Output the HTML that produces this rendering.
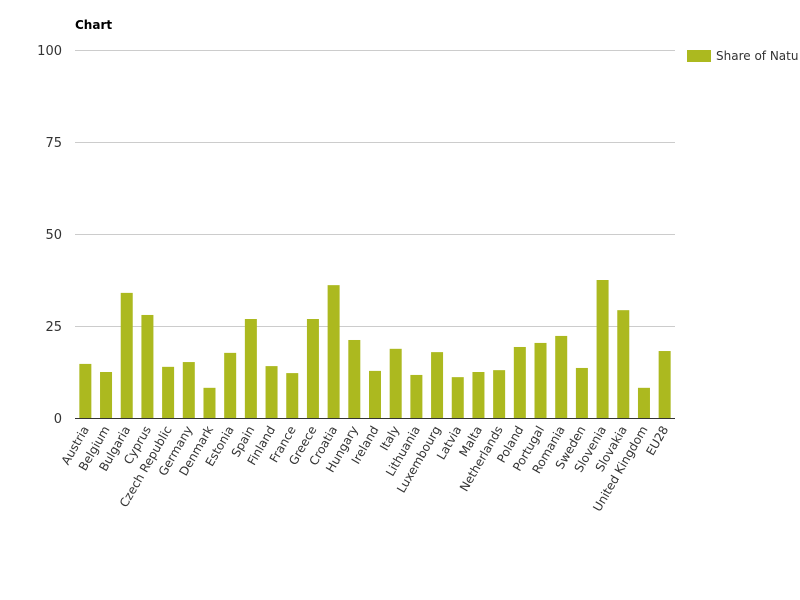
<!DOCTYPE html>
<html><head><meta charset="utf-8"><style>
html,body{margin:0;padding:0;background:#fff;width:800px;height:600px;overflow:hidden}
svg{display:block;font-family:"DejaVu Sans","Liberation Sans",sans-serif}
</style></head><body>
<svg width="800" height="600" viewBox="0 0 800 600">
<text x="75" y="29" font-size="12" font-weight="bold" fill="#000">Chart</text>
<g stroke="#cccccc" stroke-width="1">
<line x1="75" y1="50.5" x2="675" y2="50.5"/>
<line x1="75" y1="142.5" x2="675" y2="142.5"/>
<line x1="75" y1="234.5" x2="675" y2="234.5"/>
<line x1="75" y1="326.5" x2="675" y2="326.5"/>
</g>
<g font-size="13" fill="#333" text-anchor="end">
<text x="62" y="55">100</text>
<text x="62" y="147">75</text>
<text x="62" y="239">50</text>
<text x="62" y="331">25</text>
<text x="62" y="423">0</text>
</g>
<g id="bars" fill="#acb91f"></g>
<line x1="75" y1="418.5" x2="675" y2="418.5" stroke="#333" stroke-width="1"/>
<g id="labels" font-size="12" fill="#333"></g>
<rect x="687" y="50" width="24" height="12" fill="#acb91f"/>
<text x="716" y="60" font-size="12" fill="#333">Share of Natu</text>
<script>
var names=["Austria","Belgium","Bulgaria","Cyprus","Czech Republic","Germany","Denmark","Estonia","Spain","Finland","France","Greece","Croatia","Hungary","Ireland","Italy","Lithuania","Luxembourg","Latvia","Malta","Netherlands","Poland","Portugal","Romania","Sweden","Slovenia","Slovakia","United Kingdom","EU28"];
var vals=[14.7,12.5,34,28,13.9,15.2,8.2,17.7,26.9,14.1,12.2,26.9,36.1,21.2,12.8,18.8,11.7,17.9,11.1,12.5,13,19.3,20.4,22.3,13.6,37.5,29.3,8.2,18.2];
var ns="http://www.w3.org/2000/svg",b=document.getElementById("bars"),l=document.getElementById("labels");
var slot=600/29;
for(var i=0;i<29;i++){
 var cx=75+slot*(i+0.5),h=vals[i]*3.68;
 var r=document.createElementNS(ns,"rect");
 r.setAttribute("x",cx-6);r.setAttribute("y",418-h);r.setAttribute("width",12);r.setAttribute("height",h);
 b.appendChild(r);
 var t=document.createElementNS(ns,"text");
 t.setAttribute("text-anchor","end");
 t.setAttribute("transform","translate("+(cx+4)+",429) rotate(-60)");
 t.textContent=names[i];l.appendChild(t);
}
</script>
</svg>
</body></html>
